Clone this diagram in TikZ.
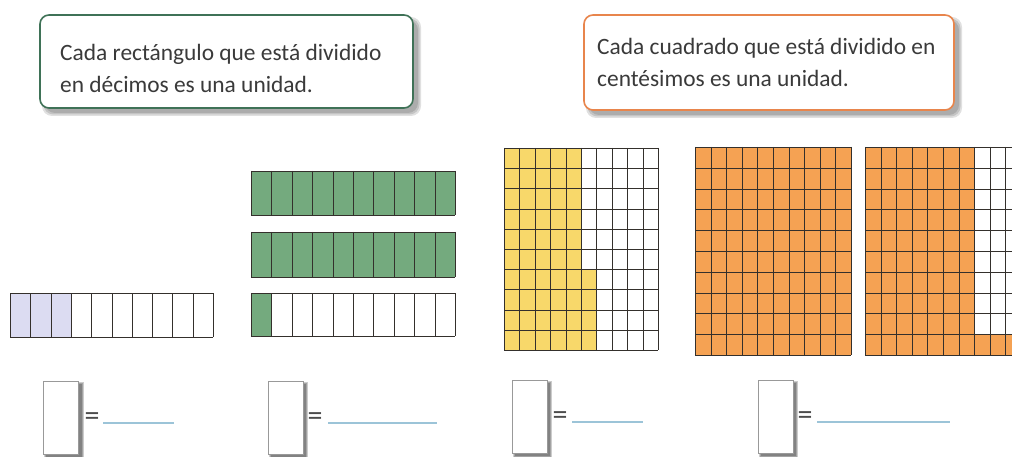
\documentclass[tikz,border=0pt]{standalone}
\usepackage{fontspec}
\setmainfont{Carlito}
\definecolor{boxgreen}{HTML}{3F7257}
\definecolor{boxorange}{HTML}{E8854C}
\definecolor{lav}{HTML}{DCDCF2}
\definecolor{stripgreen}{HTML}{74AA7E}
\definecolor{gyellow}{HTML}{F8D86A}
\definecolor{gorange}{HTML}{F5A253}
\definecolor{gline}{HTML}{34302C}
\definecolor{ansline}{HTML}{9CC4D8}
\definecolor{txt}{HTML}{3A3A3A}
\tikzset{
  gl/.style={draw=gline, line width=1.7pt},
  infobox/.style={draw=#1, line width=1.6pt, rounded corners=9pt, fill=white},
  boxshadow/.style={fill=black, opacity=0.12, rounded corners=10pt},
  ansbox/.style={draw=black!40, line width=0.8pt, fill=white, minimum width=35pt, minimum height=73pt, inner sep=0pt},
  eqsign/.style={font=\fontsize{30}{30}\selectfont, text=black!70, inner sep=0pt},
  bodytext/.style={font=\fontsize{23.4}{32}\selectfont, text=txt, inner sep=0pt, anchor=base west},
  answer/.style={draw=ansline, line width=1.3pt},
}
\newcommand{\mygrid}[6]{%
  \foreach \k in {0,...,#5} \draw[gl] ({round(#1+(#3-#1)*\k/#5)+0.5},#2) -- ({round(#1+(#3-#1)*\k/#5)+0.5},#4);
  \foreach \k in {0,...,#6} \draw[gl] (#1,{round(#2+(#4-#2)*\k/#6)+0.5}) -- (#3,{round(#2+(#4-#2)*\k/#6)+0.5});
}
\newcommand{\softshadow}[4]{%
  \foreach \d in {0,1.5,3} \fill[boxshadow] ({#1+5-\d},{#2+5-\d}) rectangle ({#3+5+\d},{#4+5+\d});
}
\newcommand{\ansshadow}[4]{%
  \foreach \d in {0,1,2} \fill[black, opacity=0.2] ({#1+3-\d},{#2+3-\d}) rectangle ({#3+3+\d},{#4+3+\d});
}
\begin{document}
\begin{tikzpicture}[x=1pt, y=-1pt]
\useasboundingbox (0,0) rectangle (1012,457);
\fill[white] (0,0) rectangle (1012,457);
\begin{scope}
\clip (0,0) rectangle (1012,457);

% ---- info boxes ----
\softshadow{40}{15}{413}{108}
\draw[infobox=boxgreen] (40,15) rectangle (413,108);
\node[bodytext] (g1) at (60,61) {Cada rectángulo que está dividido};
\node[bodytext] (g2) at (60,93) {en décimos es una unidad.};

\softshadow{584}{15}{954}{110}
\draw[infobox=boxorange] (584,15) rectangle (954,110);
\node[bodytext] (o1) at (597,55) {Cada cuadrado que está dividido en};
\node[bodytext] (o2) at (597,87) {centésimos es una unidad.};

% ---- purple strip (tenths) ----
\fill[lav] (10,293) rectangle ({10+3*20.3},337);
\mygrid{10}{293}{213}{337}{10}{1}

% ---- green strips ----
\fill[stripgreen] (251,171) rectangle (455,215);
\mygrid{251}{171}{455}{215}{10}{1}
\fill[stripgreen] (251,232) rectangle (455,277);
\mygrid{251}{232}{455}{277}{10}{1}
\fill[stripgreen] (251,293) rectangle ({251+20.4},336);
\mygrid{251}{293}{455}{336}{10}{1}

% ---- yellow hundredths ----
\fill[gyellow] (504,148) rectangle ({504+5*15.4},350);
\fill[gyellow] ({504+5*15.4},{148+6*20.2}) rectangle ({504+6*15.4},350);
\mygrid{504}{148}{658}{350}{10}{10}

% ---- orange hundredths ----
\fill[gorange] (695,147) rectangle (851,355);
\mygrid{695}{147}{851}{355}{10}{10}
\fill[gorange] (865,147) rectangle ({865+7*15.6},355);
\fill[gorange] ({865+7*15.6},{147+9*20.8}) rectangle (1021,355);
\mygrid{865}{147}{1021}{355}{10}{10}

% ---- answer boxes ----
\ansshadow{43}{381}{79}{454}
\node[ansbox] (a1) at (61,417.5) {};
\node[eqsign] (e1) at (92,419) {=};
\coordinate (l1a) at (103,423); \coordinate (l1b) at (174,423);
\draw[answer] (l1a) -- (l1b);

\ansshadow{268}{381}{303}{454}
\node[ansbox] (a2) at (285.5,417.5) {};
\node[eqsign] (e2) at (315,419) {=};
\coordinate (l2a) at (328,423); \coordinate (l2b) at (437,423);
\draw[answer] (l2a) -- (l2b);

\ansshadow{512}{380}{547}{453}
\node[ansbox] (a3) at (529.5,416.5) {};
\node[eqsign] (e3) at (560,418) {=};
\coordinate (l3a) at (572,422); \coordinate (l3b) at (643,422);
\draw[answer] (l3a) -- (l3b);

\ansshadow{758}{380}{793}{453}
\node[ansbox] (a4) at (775.5,416.5) {};
\node[eqsign] (e4) at (805,418) {=};
\coordinate (l4a) at (817,422); \coordinate (l4b) at (950,422);
\draw[answer] (l4a) -- (l4b);
\end{scope}
\end{tikzpicture}
\end{document}
